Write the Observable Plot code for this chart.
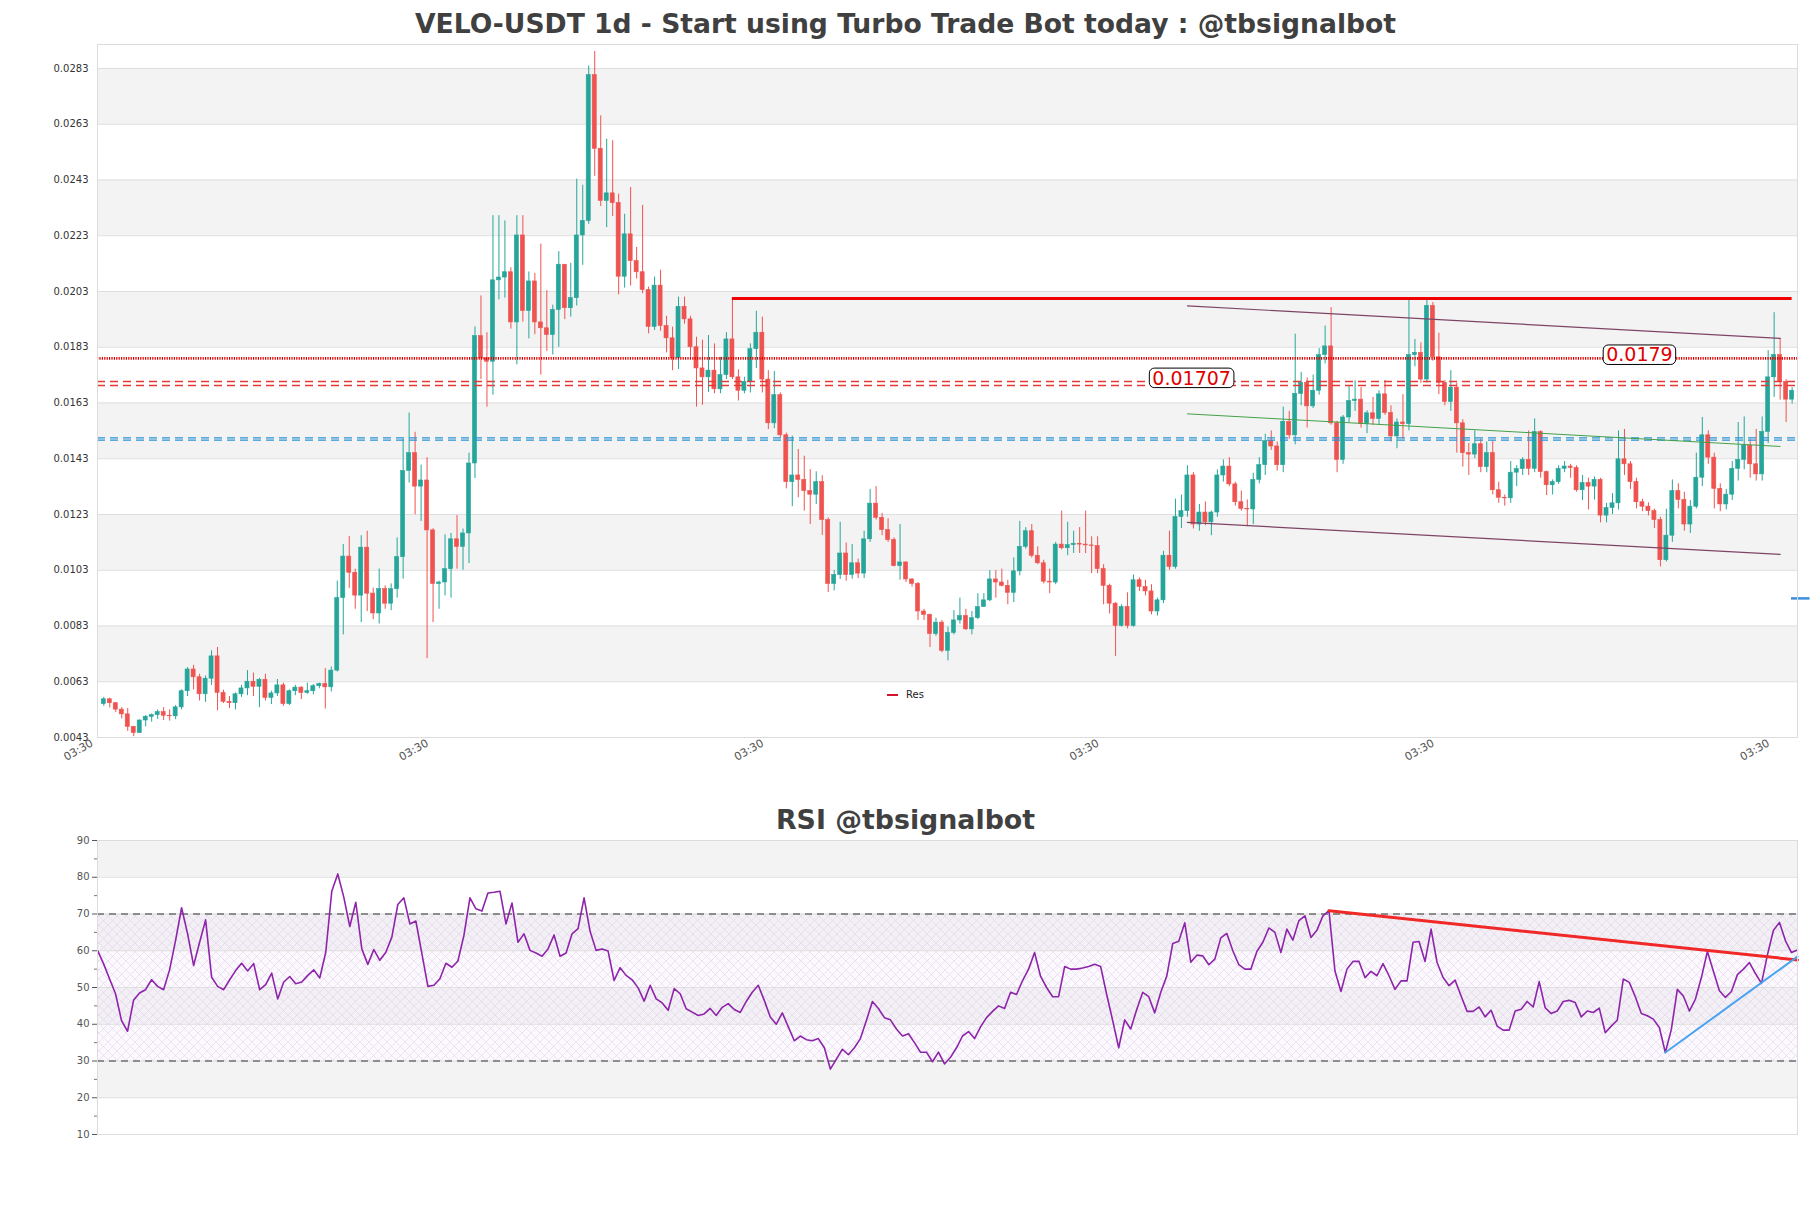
<!DOCTYPE html>
<html><head><meta charset="utf-8">
<script src="https://cdn.jsdelivr.net/npm/d3@7"></script>
<script src="https://cdn.jsdelivr.net/npm/@observablehq/plot@0.6"></script>
<style>
body{margin:0;background:#fff;}
#wrap{position:relative;width:1811px;height:1208px;overflow:hidden;font-family:"DejaVu Sans",sans-serif;background:#fff;}
.title{position:absolute;left:0;width:1811px;text-align:center;font-weight:bold;color:#404040;line-height:27px;font-family:"DejaVu Sans",sans-serif;}
#main{position:absolute;left:0;top:0;}
#rsi{position:absolute;left:0;top:790px;}
.legend{position:absolute;left:887px;top:689px;font-size:10px;color:#222;font-family:"DejaVu Sans",sans-serif;}
</style></head><body>
<div id="wrap">
<div id="main"></div><div id="rsi"></div>
<div class="title" style="top:10px;font-size:26.6px">VELO-USDT 1d - Start using Turbo Trade Bot today : @tbsignalbot</div>
<div class="title" style="top:806px;font-size:26.8px">RSI @tbsignalbot</div>
<div class="legend"><span style="display:inline-block;width:11px;height:2px;background:#d0142c;vertical-align:middle;margin-right:8px"></span>Res</div>
</div>
<script>
// ---------- candle data (daily) ----------
const open = [0.00550,0.00567,0.00553,0.00530,0.00513,0.00468,0.00446,0.00491,0.00504,0.00510,
0.00521,0.00508,0.00506,0.00538,0.00596,0.00674,0.00646,0.00585,0.00641,0.00721,
0.00590,0.00558,0.00553,0.00585,0.00606,0.00630,0.00612,0.00637,0.00572,0.00588,
0.00617,0.00550,0.00596,0.00609,0.00590,0.00596,0.00614,0.00622,0.00610,0.00670,
0.00930,0.01079,0.01021,0.00939,0.01111,0.00946,0.00875,0.00962,0.00910,0.00962,
0.01077,0.01386,0.01450,0.01330,0.01352,0.01173,0.00981,0.00986,0.01034,0.01141,
0.01114,0.01162,0.01413,0.01870,0.01790,0.01778,0.02070,0.02080,0.02099,0.01919,
0.02231,0.01960,0.02066,0.01919,0.01898,0.01874,0.01964,0.02126,0.01970,0.02006,
0.02231,0.02283,0.02806,0.02542,0.02355,0.02382,0.02347,0.02083,0.02235,0.02139,
0.02099,0.02035,0.01903,0.02051,0.01906,0.01862,0.01791,0.01975,0.01930,0.01830,
0.01754,0.01722,0.01746,0.01679,0.01730,0.01858,0.01722,0.01674,0.01706,0.01823,
0.01882,0.01714,0.01557,0.01658,0.01514,0.01346,0.01370,0.01354,0.01314,0.01301,
0.01346,0.01210,0.00981,0.01013,0.01090,0.01013,0.01055,0.01018,0.01141,0.01269,
0.01218,0.01174,0.01138,0.01045,0.01058,0.00997,0.00981,0.00882,0.00870,0.00801,
0.00842,0.00741,0.00805,0.00850,0.00866,0.00818,0.00858,0.00898,0.00922,0.00997,
0.00986,0.00974,0.00949,0.01026,0.01114,0.01170,0.01082,0.01055,0.00989,0.00986,
0.01122,0.01109,0.01120,0.01125,0.01122,0.01119,0.01117,0.01034,0.00974,0.00910,
0.00830,0.00898,0.00830,0.00994,0.00970,0.00954,0.00882,0.00922,0.01082,0.01042,
0.01221,0.01242,0.01370,0.01194,0.01237,0.01202,0.01237,0.01370,0.01402,0.01338,
0.01274,0.01250,0.01248,0.01354,0.01407,0.01493,0.01474,0.01407,0.01562,0.01514,
0.01663,0.01702,0.01618,0.01674,0.01802,0.01833,0.01557,0.01426,0.01578,0.01637,
0.01642,0.01554,0.01593,0.01573,0.01661,0.01594,0.01510,0.01560,0.01554,0.01802,
0.01810,0.01714,0.01978,0.01794,0.01702,0.01634,0.01685,0.01557,0.01450,0.01445,
0.01482,0.01400,0.01450,0.01317,0.01290,0.01288,0.01380,0.01393,0.01426,0.01394,
0.01526,0.01382,0.01335,0.01346,0.01394,0.01402,0.01397,0.01317,0.01343,0.01330,
0.01354,0.01226,0.01253,0.01270,0.01428,0.01410,0.01346,0.01274,0.01258,0.01242,
0.01210,0.01066,0.01154,0.01314,0.01282,0.01194,0.01258,0.01362,0.01514,0.01434,
0.01322,0.01266,0.01301,0.01394,0.01426,0.01477,0.01410,0.01374,0.01526,0.01722,
0.01802,0.01706,0.01642];
const high = [0.00574,0.00571,0.00555,0.00537,0.00534,0.00470,0.00493,0.00509,0.00514,0.00529,
0.00537,0.00529,0.00545,0.00601,0.00681,0.00689,0.00657,0.00651,0.00741,0.00753,
0.00600,0.00577,0.00590,0.00617,0.00670,0.00661,0.00642,0.00657,0.00596,0.00638,
0.00625,0.00601,0.00617,0.00612,0.00625,0.00620,0.00625,0.00677,0.00683,0.00991,
0.01122,0.01151,0.01034,0.01154,0.01170,0.00966,0.01034,0.00974,0.00981,0.01146,
0.01501,0.01594,0.01525,0.01407,0.01434,0.01179,0.00991,0.01157,0.01162,0.01226,
0.01178,0.01450,0.01903,0.02014,0.01882,0.02302,0.02302,0.02283,0.02115,0.02302,
0.02302,0.02100,0.02095,0.02200,0.02033,0.01981,0.02173,0.02126,0.02131,0.02433,
0.02411,0.02839,0.02891,0.02660,0.02576,0.02571,0.02379,0.02307,0.02403,0.02188,
0.02339,0.02046,0.02082,0.02106,0.01941,0.01902,0.02010,0.02010,0.01941,0.01866,
0.01855,0.01872,0.01842,0.01794,0.01882,0.02005,0.01749,0.01722,0.01842,0.01959,
0.01938,0.01746,0.01743,0.01666,0.01522,0.01511,0.01463,0.01439,0.01391,0.01383,
0.01369,0.01218,0.01029,0.01202,0.01128,0.01122,0.01070,0.01170,0.01320,0.01330,
0.01234,0.01215,0.01146,0.01194,0.01060,0.00999,0.00986,0.00890,0.00873,0.00858,
0.00850,0.00826,0.00885,0.00930,0.00890,0.00882,0.00946,0.00946,0.01029,0.01029,
0.01034,0.00994,0.01074,0.01205,0.01183,0.01194,0.01114,0.01066,0.01034,0.01130,
0.01242,0.01202,0.01170,0.01183,0.01242,0.01150,0.01150,0.01050,0.00980,0.00914,
0.00906,0.00949,0.01013,0.01002,0.00994,0.00978,0.00930,0.01098,0.01170,0.01285,
0.01300,0.01405,0.01380,0.01266,0.01275,0.01242,0.01390,0.01426,0.01434,0.01346,
0.01314,0.01282,0.01378,0.01434,0.01518,0.01530,0.01490,0.01615,0.01600,0.01877,
0.01740,0.01720,0.01730,0.01825,0.01906,0.01972,0.01564,0.01585,0.01690,0.01710,
0.01685,0.01602,0.01650,0.01674,0.01710,0.01620,0.01573,0.01660,0.02002,0.01858,
0.01846,0.02006,0.01990,0.01880,0.01710,0.01746,0.01702,0.01570,0.01485,0.01530,
0.01500,0.01490,0.01493,0.01346,0.01300,0.01420,0.01405,0.01434,0.01530,0.01573,
0.01530,0.01386,0.01354,0.01405,0.01420,0.01410,0.01405,0.01370,0.01360,0.01365,
0.01360,0.01270,0.01305,0.01530,0.01535,0.01420,0.01360,0.01285,0.01272,0.01249,
0.01220,0.01249,0.01354,0.01340,0.01310,0.01280,0.01450,0.01578,0.01530,0.01450,
0.01340,0.01320,0.01420,0.01560,0.01580,0.01500,0.01535,0.01580,0.01818,0.01954,
0.01862,0.01714,0.01685];
const low = [0.00542,0.00536,0.00520,0.00497,0.00452,0.00433,0.00445,0.00468,0.00485,0.00495,
0.00491,0.00489,0.00494,0.00529,0.00577,0.00601,0.00561,0.00556,0.00617,0.00526,
0.00552,0.00534,0.00529,0.00574,0.00580,0.00577,0.00537,0.00561,0.00548,0.00577,
0.00542,0.00545,0.00580,0.00566,0.00585,0.00583,0.00605,0.00532,0.00593,0.00665,
0.00798,0.00965,0.00890,0.00842,0.00882,0.00853,0.00837,0.00890,0.00885,0.00930,
0.00998,0.01343,0.01229,0.01205,0.00713,0.00842,0.00890,0.00938,0.00930,0.01034,
0.01030,0.01054,0.01359,0.01714,0.01615,0.01658,0.02000,0.02006,0.01895,0.01767,
0.01920,0.01860,0.01875,0.01730,0.01815,0.01802,0.01830,0.01929,0.01938,0.01978,
0.02124,0.02271,0.02443,0.02335,0.02259,0.02299,0.02018,0.02042,0.02050,0.02075,
0.02022,0.01878,0.01890,0.01887,0.01810,0.01746,0.01750,0.01913,0.01794,0.01615,
0.01622,0.01668,0.01663,0.01663,0.01714,0.01714,0.01637,0.01663,0.01666,0.01754,
0.01666,0.01535,0.01538,0.01506,0.01322,0.01258,0.01290,0.01242,0.01194,0.01266,
0.01155,0.00950,0.00956,0.00997,0.00991,0.00998,0.01000,0.01000,0.01130,0.01210,
0.01154,0.01130,0.01042,0.00994,0.00986,0.00970,0.00850,0.00850,0.00753,0.00793,
0.00734,0.00705,0.00798,0.00837,0.00814,0.00798,0.00853,0.00898,0.00917,0.00930,
0.00970,0.00906,0.00914,0.01010,0.01106,0.01074,0.01050,0.00981,0.00946,0.00978,
0.01103,0.01082,0.01090,0.01090,0.01090,0.01018,0.01018,0.00906,0.00873,0.00721,
0.00826,0.00820,0.00826,0.00954,0.00938,0.00870,0.00866,0.00910,0.01030,0.01034,
0.01180,0.01220,0.01178,0.01170,0.01190,0.01154,0.01220,0.01346,0.01330,0.01260,
0.01242,0.01186,0.01194,0.01340,0.01370,0.01460,0.01386,0.01380,0.01500,0.01480,
0.01620,0.01540,0.01610,0.01658,0.01770,0.01550,0.01380,0.01410,0.01560,0.01600,
0.01540,0.01520,0.01550,0.01550,0.01586,0.01490,0.01466,0.01500,0.01530,0.01760,
0.01700,0.01702,0.01780,0.01660,0.01620,0.01600,0.01450,0.01400,0.01370,0.01430,
0.01380,0.01380,0.01300,0.01270,0.01260,0.01270,0.01330,0.01370,0.01370,0.01380,
0.01360,0.01298,0.01300,0.01338,0.01380,0.01360,0.01310,0.01280,0.01246,0.01282,
0.01200,0.01200,0.01230,0.01246,0.01370,0.01320,0.01250,0.01240,0.01225,0.01180,
0.01042,0.01060,0.01130,0.01250,0.01170,0.01162,0.01250,0.01330,0.01410,0.01250,
0.01240,0.01246,0.01280,0.01350,0.01390,0.01360,0.01350,0.01350,0.01485,0.01650,
0.01640,0.01560,0.01626];
const close = [0.00567,0.00553,0.00530,0.00513,0.00468,0.00446,0.00491,0.00504,0.00510,0.00521,
0.00508,0.00506,0.00538,0.00596,0.00674,0.00646,0.00585,0.00641,0.00721,0.00590,
0.00558,0.00553,0.00585,0.00606,0.00630,0.00612,0.00637,0.00572,0.00588,0.00617,
0.00550,0.00596,0.00609,0.00590,0.00596,0.00614,0.00622,0.00610,0.00670,0.00930,
0.01079,0.01021,0.00939,0.01111,0.00946,0.00875,0.00962,0.00910,0.00962,0.01077,
0.01386,0.01450,0.01330,0.01352,0.01173,0.00981,0.00986,0.01034,0.01141,0.01114,
0.01162,0.01413,0.01870,0.01790,0.01778,0.02070,0.02080,0.02099,0.01919,0.02231,
0.01960,0.02066,0.01919,0.01898,0.01874,0.01964,0.02126,0.01970,0.02006,0.02231,
0.02283,0.02806,0.02542,0.02355,0.02382,0.02347,0.02083,0.02235,0.02139,0.02099,
0.02035,0.01903,0.02051,0.01906,0.01862,0.01791,0.01975,0.01930,0.01830,0.01754,
0.01722,0.01746,0.01679,0.01730,0.01858,0.01722,0.01674,0.01706,0.01823,0.01882,
0.01714,0.01557,0.01658,0.01514,0.01346,0.01370,0.01354,0.01314,0.01301,0.01346,
0.01210,0.00981,0.01013,0.01090,0.01013,0.01055,0.01018,0.01141,0.01269,0.01218,
0.01174,0.01138,0.01045,0.01058,0.00997,0.00981,0.00882,0.00870,0.00801,0.00842,
0.00741,0.00805,0.00850,0.00866,0.00818,0.00858,0.00898,0.00922,0.00997,0.00986,
0.00974,0.00949,0.01026,0.01114,0.01170,0.01082,0.01055,0.00989,0.00986,0.01122,
0.01109,0.01120,0.01125,0.01122,0.01119,0.01117,0.01034,0.00974,0.00910,0.00830,
0.00898,0.00830,0.00994,0.00970,0.00954,0.00882,0.00922,0.01082,0.01042,0.01221,
0.01242,0.01370,0.01194,0.01237,0.01202,0.01237,0.01370,0.01402,0.01338,0.01274,
0.01250,0.01248,0.01354,0.01407,0.01493,0.01474,0.01407,0.01562,0.01514,0.01663,
0.01702,0.01618,0.01674,0.01802,0.01833,0.01557,0.01426,0.01578,0.01637,0.01642,
0.01554,0.01593,0.01573,0.01661,0.01594,0.01510,0.01560,0.01554,0.01802,0.01810,
0.01714,0.01978,0.01794,0.01702,0.01634,0.01685,0.01557,0.01450,0.01445,0.01482,
0.01400,0.01450,0.01317,0.01290,0.01288,0.01380,0.01393,0.01426,0.01394,0.01526,
0.01382,0.01335,0.01346,0.01394,0.01402,0.01397,0.01317,0.01343,0.01330,0.01354,
0.01226,0.01253,0.01270,0.01428,0.01410,0.01346,0.01274,0.01258,0.01242,0.01210,
0.01066,0.01154,0.01314,0.01282,0.01194,0.01258,0.01362,0.01514,0.01434,0.01322,
0.01266,0.01301,0.01394,0.01426,0.01477,0.01410,0.01374,0.01526,0.01722,0.01802,
0.01706,0.01642,0.01674];

// ---------- axes ----------
const yTicks = [0.0043,0.0063,0.0083,0.0103,0.0123,0.0143,0.0163,0.0183,0.0203,0.0223,0.0243,0.0263,0.0283];
const yBands = [[0.0063,0.0083],[0.0103,0.0123],[0.0143,0.0163],[0.0183,0.0203],[0.0223,0.0243],[0.0263,0.0283]];
const xTicks = [-2.3, 53.7, 109.7, 165.7, 221.7, 277.7];
const xTickLabels = ["03:30","03:30","03:30","03:30","03:30","03:30"];
const xDomain = [-1.05, 282.9];
const yDomain = [0.0043, 0.02916];

// ---------- levels & trend lines ----------
const resistance = {value: 0.02005, from: 105, to: 282};
const dottedLevel = [0.0179];
const redDashed = [0.01707, 0.01693];
const blueDashed = [0.01505, 0.01497];
const blueMark = {value: 0.00929, from: 281.9, to: 285};
const channelUpper = [{i:181, v:0.019785}, {i:280, v:0.018616}];
const channelLower = [{i:181, v:0.012018}, {i:280, v:0.010866}];
const channelMid   = [{i:181, v:0.01591},  {i:280, v:0.01474}];
const levelLabels = [{text:"0.01707", value:0.01707, at:181.7}, {text:"0.0179", value:0.0179, at:256.5}];

// ---------- RSI ----------
const rsi = [60.1,56.5,52.4,48.3,41.0,38.1,46.5,48.5,49.4,52.1,
50.3,49.4,54.8,62.8,71.7,64.6,56.0,62.3,68.4,52.8,
50.3,49.4,52.1,54.6,56.6,54.5,56.5,49.4,50.8,53.9,
46.9,51.5,53.0,51.0,51.5,53.3,54.8,52.6,59.6,76.2,
80.9,74.6,66.6,73.2,60.5,56.3,60.3,57.4,59.6,63.7,
72.6,74.4,67.3,68.1,59.2,50.3,50.6,52.4,56.6,55.5,
57.2,64.2,74.4,71.4,70.8,75.7,75.9,76.2,67.3,73.0,
62.3,64.6,60.1,59.4,58.5,60.5,64.3,58.5,59.4,64.6,
66.0,74.4,65.3,60.1,60.5,59.9,51.9,55.4,53.3,52.1,
49.9,46.3,50.6,46.9,45.8,43.8,49.7,48.3,44.2,43.3,42.4,
42.8,44.3,42.4,44.6,45.6,44.0,43.2,46.2,48.7,50.6,
46.5,42.0,40.0,43.1,39.3,35.5,36.8,35.8,35.5,36.1,
33.6,27.8,30.5,33.2,31.7,33.6,36.1,41.0,46.2,44.3,
41.8,41.2,38.7,36.8,37.4,35.0,32.4,32.4,29.8,32.4,
29.2,31.0,33.6,36.8,38.0,36.1,39.3,41.8,43.5,45.0,
44.3,48.7,48.1,51.9,55.0,59.5,53.0,50.0,47.5,47.5,
55.7,55.0,55.0,55.3,55.7,56.3,55.7,48.1,41.0,33.6,
41.2,38.7,44.0,48.7,47.5,43.1,48.7,53.1,62.0,62.6,
67.6,56.9,58.8,
58.6,56.2,57.7,63.5,64.7,60.0,56.2,55.0,55.0,59.8,
62.3,66.2,65.0,59.5,65.9,62.9,68.2,69.5,63.6,65.6,
69.5,70.9,54.5,48.9,55.0,57.1,57.1,52.7,54.4,53.2,
56.5,53.2,49.5,51.8,51.8,62.3,62.5,57.1,65.9,56.8,
52.7,50.5,52.0,47.7,43.5,43.5,44.7,42.0,43.8,39.5,
38.4,38.4,43.6,44.1,46.2,44.7,51.6,44.5,42.9,43.6,
46.2,46.5,45.9,42.0,43.6,43.2,44.4,37.7,39.5,41.1,
52.3,51.4,47.5,42.9,42.3,41.4,39.1,32.3,38.6,49.5,
47.7,43.6,46.8,52.7,59.8,54.4,49.1,47.3,48.9,53.5,
55.0,56.8,53.8,51.1,58.9,65.6,67.7,62.7,59.5,60.2];
const rsiTicks = [10,20,30,40,50,60,70,80,90];
const rsiMinor = [15,25,35,45,55,65,75,85];
const rsiBands = [[80,90],[60,70],[40,50],[20,30]];
const rsiZone = [[30,70]];
const rsiLevels = [70,30];
const rsiResEnd = 57.5, rsiSupEnd = 58.4;

const GREEN = "#26a69a", RED = "#ef5350";

const candles = close.map((c, i) => ({i, o: open[i], h: high[i], l: low[i], c}));
const col = d => d.c >= d.o ? GREEN : RED;

const mainPlot = Plot.plot({
  width: 1811, height: 790,
  marginLeft: 97, marginRight: 14, marginTop: 44, marginBottom: 53,
  x: {type: "linear", domain: xDomain, axis: null},
  y: {type: "linear", domain: yDomain, axis: null},
  color: {type: "identity"},
  style: {fontFamily: "DejaVu Sans, sans-serif", background: "transparent"},
  marks: [
    Plot.rect(yBands, {x1: xDomain[0], x2: xDomain[1], y1: d => d[0], y2: d => d[1], fill: "#f3f3f3"}),
    Plot.ruleY(yTicks, {stroke: "#dedede", strokeWidth: 1}),
    Plot.ruleX(candles, {x: "i", y1: "l", y2: "h", stroke: col, strokeWidth: 1}),
    Plot.rect(candles, {x1: d => d.i - 0.34, x2: d => d.i + 0.34,
      y1: d => Math.min(d.o, d.c), y2: d => Math.max(d.o, d.c), fill: col, stroke: col, strokeWidth: 0.6}),
    Plot.ruleY(dottedLevel, {stroke: "#dd0000", strokeWidth: 2.6, strokeDasharray: "1.2,1.2"}),
    Plot.ruleY(redDashed, {stroke: "#e53935", strokeWidth: 1.5, strokeDasharray: "8,5"}),
    Plot.ruleY(blueDashed, {stroke: "#2a93d5", strokeWidth: 1.2, strokeDasharray: "8,5"}),
    Plot.ruleY([resistance], {y: "value", x1: "from", x2: "to", stroke: "#f00000", strokeWidth: 3}),
    Plot.line(channelUpper, {x: "i", y: "v", stroke: "#7d4466", strokeWidth: 1.2}),
    Plot.line(channelLower, {x: "i", y: "v", stroke: "#7d4466", strokeWidth: 1.2}),
    Plot.line(channelMid, {x: "i", y: "v", stroke: "#43a047", strokeWidth: 1}),
    Plot.ruleY([blueMark], {y: "value", x1: "from", x2: "to", stroke: "#3d8fe0", strokeWidth: 2.5}),
    Plot.text(levelLabels, {x: "at", y: "value", text: "text", fill: "#e00000", fontSize: 19, dy: -3, className: "lvl-label"}),
    Plot.frame({stroke: "#dcdcdc"}),
    Plot.axisY({ticks: yTicks, tickFormat: d3.format(".4f"), tickSize: 0, tickPadding: 9, fontSize: 10, color: "#333", label: null}),
    Plot.text(xTicks, {x: d => d, text: (d, i) => xTickLabels[i], frameAnchor: "bottom", dy: 1,
      rotate: -30, textAnchor: "end", lineAnchor: "top", fontSize: 11, fill: "#555"})
  ]
});
document.getElementById("main").appendChild(mainPlot);

// boxes around level labels
d3.select(mainPlot).selectAll("g.lvl-label text").each(function() {
  const b = this.getBBox();
  d3.select(this.parentNode).insert("rect", () => this)
    .attr("x", b.x - 3).attr("y", b.y + 1.5).attr("width", b.width + 6).attr("height", b.height - 2.5)
    .attr("rx", 5).attr("fill", "#fff").attr("stroke", "#000").attr("stroke-width", 1)
    .attr("transform", this.getAttribute("transform"));
});

const last = rsi.length - 1;
const resStart = rsi.lastIndexOf(70.9);
const supStart = rsi.lastIndexOf(32.3);
const rsiRes = [{i: resStart, v: 70.9}, {i: last, v: rsiResEnd}];
const rsiSup = [{i: supStart, v: 32.3}, {i: last, v: rsiSupEnd}];

const rsiPlot = Plot.plot({
  width: 1811, height: 418,
  marginLeft: 97, marginRight: 14, marginTop: 50, marginBottom: 74,
  x: {type: "linear", domain: [0, last], axis: null},
  y: {type: "linear", domain: [10, 90], axis: null},
  style: {fontFamily: "DejaVu Sans, sans-serif", background: "transparent"},
  marks: [
    Plot.rect(rsiBands, {x1: 0, x2: last, y1: d => d[0], y2: d => d[1], fill: "#f3f3f3"}),
    Plot.rect(rsiZone, {x1: 0, x2: last, y1: d => d[0], y2: d => d[1], fill: "url(#hatch)"}),
    Plot.ruleY(rsiTicks, {stroke: "#dedede"}),
    Plot.ruleY(rsiLevels, {stroke: "#333", strokeWidth: 1.2, strokeDasharray: "7,5"}),
    Plot.line(rsi, {x: (d, i) => i, y: d => d, stroke: "#8e24aa", strokeWidth: 1.6}),
    Plot.line(rsiRes, {x: "i", y: "v", stroke: "#f02828", strokeWidth: 3}),
    Plot.line(rsiSup, {x: "i", y: "v", stroke: "#4aa3f0", strokeWidth: 2}),
    Plot.frame({stroke: "#dcdcdc"}),
    Plot.axisY({ticks: rsiTicks, tickSize: 5, tickPadding: 3, fontSize: 10, color: "#555", tickFormat: d3.format("d"), label: null}),
    Plot.axisY({ticks: rsiMinor, tickSize: 3, tickFormat: () => "", color: "#777", label: null})
  ]
});
document.getElementById("rsi").appendChild(rsiPlot);
const defs = d3.select(rsiPlot).insert("defs", ":first-child");
const pat = defs.append("pattern").attr("id", "hatch").attr("patternUnits", "userSpaceOnUse")
  .attr("width", 9).attr("height", 9);
pat.append("rect").attr("width", 9).attr("height", 9).attr("fill", "rgba(240,232,246,0.25)");
pat.append("path").attr("d", "M0,0L9,9M9,0L0,9").attr("stroke", "#dccbe6").attr("stroke-width", 0.5).attr("fill", "none");
</script>
</body></html>
